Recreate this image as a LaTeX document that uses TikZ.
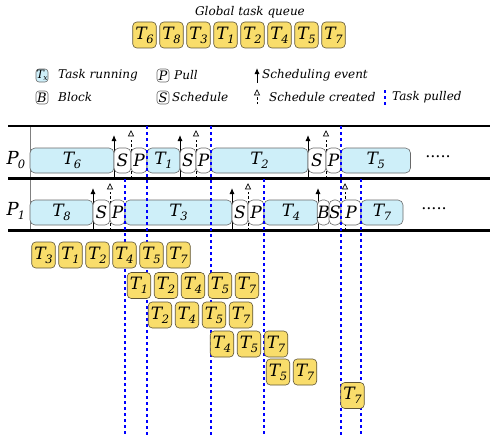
\documentclass[tikz,border=0pt]{standalone}
\usepackage{fontspec}
\setmainfont{DejaVu Serif}
\usetikzlibrary{arrows.meta}
\definecolor{taskfill}{RGB}{206,239,249}
\definecolor{tdraw}{RGB}{105,105,105}
\definecolor{qfill}{RGB}{249,221,107}
\definecolor{qdraw}{RGB}{95,85,55}
\definecolor{pblue}{RGB}{0,0,255}
\newcommand\tk[1]{T\kern-0.03em\raisebox{-0.45ex}{\fontsize{11.5}{12}\selectfont #1}}
\newcommand\pl[1]{P\kern-0.05em\raisebox{-0.45ex}{\fontsize{11.5}{12}\selectfont #1}}
\newcommand\seg[6]{%
  \pgfmathsetmacro\segw{#3-#2}\pgfmathsetmacro\segc{(#2+#3)/2}%
  \node[#5, minimum width=\segw pt] (#1) at (\segc,#4) {#6};}
\newcommand\schedarrow[4]{% name, x, rowtop, rowbottom
  \coordinate (#1b) at (#2,#4); \coordinate (#1t) at (#2,{#3+9});
  \draw[schedev] (#1b) -- (#1t);}
\newcommand\created[4]{% name, x, rowtop, rowbottom
  \coordinate (#1b) at (#2,#4); \coordinate (#1t) at (#2,{#3+12});
  \draw[createdln] (#1b) -- (#1t);
  \draw[tri] ({#2-2.6},{#3+10}) -- (#2,{#3+5}) -- ({#2+2.6},{#3+10}) -- cycle;}
\newcommand\pulled[3]{% name, x, ytop
  \coordinate (#1t) at (#2,#3); \coordinate (#1b) at (#2,435);
  \draw[pulledln] (#1t) -- (#1b);}
\tikzset{
  big/.style={font=\fontsize{17}{17}\selectfont\itshape},
  qbox/.style={big, draw=qdraw, fill=qfill, rounded corners=4pt, minimum width=23.5pt, minimum height=26pt, inner sep=0pt, line width=0.6pt},
  runbox/.style={big, draw=tdraw, fill=taskfill, rounded corners=5pt, minimum height=25pt, inner sep=0pt, line width=0.6pt},
  evbox/.style={big, draw=tdraw, fill=white, rounded corners=5pt, minimum height=25pt, inner sep=0pt, line width=0.6pt},
  schedev/.style={-{Latex[length=6pt,width=5pt]}, line width=0.9pt},
  createdln/.style={dash pattern=on 2.5pt off 2pt, line width=0.7pt},
  tri/.style={draw, line width=0.7pt, fill=white},
  pulledln/.style={color=pblue, draw=pblue, dash pattern=on 3pt off 3pt, line width=1.25pt},
  rule/.style={line width=2.6pt},
  legtext/.style={font=\fontsize{12}{13}\selectfont\itshape, anchor=west, inner sep=0pt},
  legbox/.style={draw=tdraw, rounded corners=3pt, minimum width=12pt, minimum height=13pt, inner sep=0pt, font=\fontsize{13}{13}\selectfont\itshape, line width=0.6pt},
}
\begin{document}
\begin{tikzpicture}[x=1pt,y=-1pt]
\useasboundingbox (0,0) rectangle (500,444);
% Global queue
\node[legtext, anchor=center] (gtitle) at (250,12) {Global task queue};
\foreach \t [count=\i] in {6,8,3,1,2,4,5,7}
  \node[qbox] (q\i) at ({144.5+27*(\i-1)},35) {\tk{\t}};
% Legend
\node[legbox, fill=taskfill, font=\fontsize{11.5}{11}\selectfont\itshape] (lgT) at (42,75.5) {T\kern-0.05em\raisebox{-0.4ex}{\fontsize{7.5}{7}\selectfont x}};
\node[legtext] (lgTt) at (58,75.5) {Task running};
\node[legbox, fill=white] (lgB) at (42,97.5) {B};
\node[legtext] (lgBt) at (58,97.5) {Block};
\node[legbox, fill=white] (lgP) at (163,75.5) {P};
\node[legtext] (lgPt) at (174,75.5) {Pull};
\node[legbox, fill=white] (lgS) at (163,97.5) {S};
\node[legtext] (lgSt) at (172,97.5) {Schedule};
\coordinate (lgAb) at (257,83); \coordinate (lgAt) at (257,68);
\draw[schedev] (lgAb) -- (lgAt);
\node[legtext] (lgAtx) at (262,75.5) {Scheduling event};
\coordinate (lgCb) at (257,104); \coordinate (lgCt) at (257,97);
\draw[createdln] (lgCb) -- (lgCt);
\draw[tri] (254.4,95) -- (257,90) -- (259.6,95) -- cycle;
\node[legtext] (lgCtx) at (269,97.5) {Schedule created};
\coordinate (lgDt) at (385,90); \coordinate (lgDb) at (385,105);
\draw[pulledln] (lgDt) -- (lgDb);
\node[legtext] (lgDtx) at (392,97.5) {Task pulled};
% Rules
\coordinate (r0l) at (8,126); \coordinate (r0r) at (490,126);
\coordinate (r1l) at (8,178.5); \coordinate (r1r) at (490,178.5);
\coordinate (r2l) at (8,230.5); \coordinate (r2r) at (490,230.5);
\coordinate (vt) at (30,126); \coordinate (vb) at (30,230.5);
\draw[draw=gray, line width=0.6pt] (vt) -- (vb);
\draw[rule] (r0l) -- (r0r);
\draw[rule] (r1l) -- (r1r);
\draw[rule] (r2l) -- (r2r);
\node[font=\fontsize{18}{18}\selectfont\itshape, inner sep=0pt] (P0) at (16,160) {\pl{0}};
\node[font=\fontsize{18}{18}\selectfont\itshape, inner sep=0pt] (P1) at (16,211) {\pl{1}};
% Event lines P0
\schedarrow{a01}{114}{126}{178}
\schedarrow{a02}{180}{126}{178}
\schedarrow{a03}{308}{126}{178}
\created{c01}{131}{126}{178}
\created{c02}{196}{126}{178}
\created{c03}{326}{126}{178}
% Event lines P1
\schedarrow{a11}{93}{179}{230}
\schedarrow{a12}{232}{179}{230}
\schedarrow{a13}{318}{179}{230}
\created{c11}{110}{179}{230}
\created{c12}{248}{179}{230}
\created{c13}{345}{179}{230}
% P0 boxes
\seg{p0t6}{30}{114}{160.5}{runbox}{\tk{6}}
\seg{p0s1}{114}{131}{160.5}{evbox}{S}
\seg{p0p1}{131}{147}{160.5}{evbox}{P}
\seg{p0t1}{147}{180}{160.5}{runbox}{\tk{1}}
\seg{p0s2}{180}{196}{160.5}{evbox}{S}
\seg{p0p2}{196}{211}{160.5}{evbox}{P}
\seg{p0t2}{211}{308}{160.5}{runbox}{\tk{2}}
\seg{p0s3}{308}{326}{160.5}{evbox}{S}
\seg{p0p3}{326}{341}{160.5}{evbox}{P}
\seg{p0t5}{341}{410.5}{160.5}{runbox}{\tk{5}}
\node[font=\fontsize{16}{16}\selectfont, inner sep=0pt] (dots0) at (438,157) {.....};
% P1 boxes
\seg{p1t8}{30}{93}{212.5}{runbox}{\tk{8}}
\seg{p1s1}{93}{110}{212.5}{evbox}{S}
\seg{p1p1}{110}{125}{212.5}{evbox}{P}
\seg{p1t3}{125}{232}{212.5}{runbox}{\tk{3}}
\seg{p1s2}{232}{248}{212.5}{evbox}{S}
\seg{p1p2}{248}{264}{212.5}{evbox}{P}
\seg{p1t4}{264}{318}{212.5}{runbox}{\tk{4}}
\seg{p1b1}{318}{329}{212.5}{evbox}{B}
\seg{p1s3}{329}{341}{212.5}{evbox}{S}
\seg{p1p3}{341}{361}{212.5}{evbox}{P}
\seg{p1t7}{361}{403}{212.5}{runbox}{\tk{7}}
\node[font=\fontsize{16}{16}\selectfont, inner sep=0pt] (dots1) at (434,209) {.....};
% Pulled lines
\pulled{d1}{125}{179}
\pulled{d2}{147}{126}
\pulled{d3}{211}{126}
\pulled{d4}{264}{179}
\pulled{d5}{341}{126}
\pulled{d6}{361}{179}
% Local queue snapshots
\foreach \t [count=\i] in {3,1,2,4,5,7}
  \node[qbox] (ra\i) at ({43.5+27*(\i-1)},255) {\tk{\t}};
\foreach \t [count=\i] in {1,2,4,5,7}
  \node[qbox] (rb\i) at ({139+27*(\i-1)},285.5) {\tk{\t}};
\foreach \t [count=\i] in {2,4,5,7}
  \node[qbox] (rc\i) at ({160+27*(\i-1)},315) {\tk{\t}};
\foreach \t [count=\i] in {4,5,7}
  \node[qbox] (rd\i) at ({222+27*(\i-1)},344) {\tk{\t}};
\foreach \t [count=\i] in {5,7}
  \node[qbox] (re\i) at ({278+27*(\i-1)},372) {\tk{\t}};
\node[qbox] (rf1) at (352.5,395.5) {\tk{7}};
\end{tikzpicture}
\end{document}
